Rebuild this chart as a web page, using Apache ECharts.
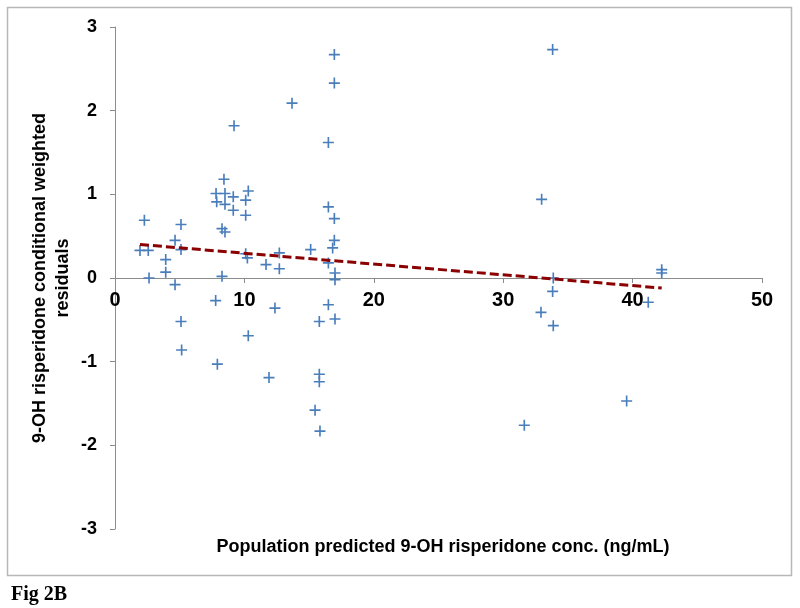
<!DOCTYPE html>
<html>
<head>
<meta charset="utf-8">
<script src="https://cdn.jsdelivr.net/npm/echarts@6/dist/echarts.min.js"></script>
<style>
  html, body { margin: 0; padding: 0; background: #fff; }
  #main { width: 800px; height: 608px; }
</style>
</head>
<body>
<div id="main"></div>
<script>
// predicted conc. (x) and conditional weighted residuals (y)
var residX = [2.27, 1.93, 2.57, 2.63, 3.92, 3.92, 4.64, 4.64, 5.10, 5.10, 5.10, 5.15,
  7.81, 8.42, 8.50, 7.86, 8.50, 9.14, 9.14, 9.20, 8.27, 8.50, 8.27, 7.78, 7.91,
  10.30, 10.10, 10.10, 10.10, 10.23, 10.30, 11.67, 11.90, 12.36, 12.70, 12.70, 13.68,
  15.12, 15.46, 15.79, 15.79, 15.79, 15.84, 16.49, 16.49, 16.49, 16.49,
  16.95, 16.95, 16.95, 16.95, 16.82, 17.00, 17.00, 17.00,
  31.63, 32.97, 32.92, 33.82, 33.87, 33.82, 33.87, 39.54, 41.21, 42.25, 42.25];
var residY = [0.69, 0.33, 0.33, 0.00, 0.22, 0.07, 0.45, -0.08, 0.64, 0.34, -0.52, -0.86,
  1.01, 1.18, 1.01, 0.91, 0.88, 0.97, 0.81, 1.82, 0.59, 0.55, 0.02, -0.27, -1.03,
  1.04, 0.93, 0.75, 0.29, 0.24, -0.69, 0.16, -1.19, -0.36, 0.30, 0.11, 2.09,
  0.34, -1.58, -0.52, -1.15, -1.24, -1.83, 1.62, 0.85, 0.18, -0.32,
  2.67, 2.33, 0.71, 0.45, 0.36, 0.06, -0.02, -0.49,
  -1.76, 0.94, -0.41, 2.73, 0.00, -0.16, -0.57, -1.47, -0.29, 0.10, 0.06];

// linear trend line (end points)
var trendX = [1.93, 42.25];
var trendY = [0.40, -0.12];

var xTitle = 'Population predicted 9-OH risperidone conc. (ng/mL)';
var yTitle = '9-OH risperidone conditional weighted\nresiduals';
var figLabel = 'Fig 2B';

var pts = [];
for (var i = 0; i < residX.length; i++) {
  pts.push([residX[i], residY[i]]);
}
var trend = [];
for (var j = 0; j < trendX.length; j++) {
  trend.push([trendX[j], trendY[j]]);
}

var font = '"Liberation Sans", Arial, sans-serif';
var axisGrey = '#8c8c8c';
var plusPath = 'path://M4.25,0h1.5v4.25h4.25v1.5h-4.25v4.25h-1.5v-4.25h-4.25v-1.5h4.25z';

// grid geometry: x axis sits on y=0, half way up the plot
var gridTop = 27, gridBottom = 79, gridH = 608 - gridTop - gridBottom;

var myChart = echarts.init(document.getElementById('main'));
var option = {
  backgroundColor: '#fff',
  animation: false,
  title: [
    {
      text: xTitle,
      left: 438, top: 533, textAlign: 'center',
      textStyle: { fontFamily: font, fontSize: 18, fontWeight: 'bold', color: '#000' }
    },
    {
      text: figLabel,
      left: 6, top: 580,
      textStyle: { fontFamily: '"Liberation Serif", "Times New Roman", serif', fontSize: 20, fontWeight: 'bold', color: '#000' }
    }
  ],
  graphic: [{
    type: 'rect',
    shape: { x: 7.5, y: 7.5, width: 784, height: 568 },
    style: { fill: 'none', stroke: '#b8b8b8', lineWidth: 1.5 },
    z: -1
  }],
  grid: { left: 115, right: 38, top: gridTop, bottom: gridBottom },
  xAxis: {
    type: 'value',
    min: 0, max: 50, interval: 10,
    offset: -gridH / 2,
    axisLine: { onZero: false, lineStyle: { color: axisGrey, width: 1 } },
    axisTick: { show: true, length: 5, lineStyle: { color: axisGrey } },
    axisLabel: { margin: 12, fontFamily: font, fontSize: 20, fontWeight: 'bold', color: '#000' },
    splitLine: { show: false }
  },
  yAxis: {
    type: 'value',
    min: -3, max: 3, interval: 1,
    name: yTitle,
    nameLocation: 'middle',
    nameRotate: 90,
    nameGap: 40,
    nameMoveOverlap: false,
    nameTextStyle: { fontFamily: font, fontSize: 18, fontWeight: 'bold', color: '#000', lineHeight: 23 },
    axisLine: { show: true, lineStyle: { color: axisGrey, width: 1 } },
    axisTick: { show: true, length: 5, lineStyle: { color: axisGrey } },
    axisLabel: { margin: 18, fontFamily: font, fontSize: 18, fontWeight: 'bold', color: '#000' },
    splitLine: { show: false }
  },
  series: [
    {
      type: 'scatter',
      data: pts,
      symbol: plusPath,
      symbolSize: 11,
      itemStyle: { color: '#4a7ebb', opacity: 1 },
      z: 2
    },
    {
      type: 'line',
      data: trend,
      showSymbol: false,
      symbol: 'none',
      lineStyle: { color: '#8b0000', width: 3, type: [9, 4] },
      z: 3
    }
  ]
};
myChart.setOption(option);
</script>
</body>
</html>
